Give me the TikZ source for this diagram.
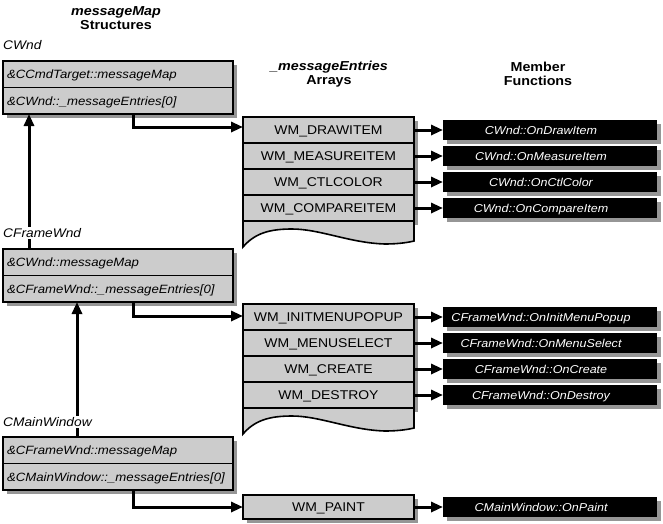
\documentclass[tikz,border=0pt]{standalone}
\usepackage{fontspec}
\setmainfont[FakeStretch=1.1]{Liberation Sans}
\usetikzlibrary{arrows.meta,shadows}
\definecolor{boxgray}{RGB}{204,204,204}
\definecolor{shadowgray}{RGB}{150,150,150}
\def\tearoff[#1](#2){\path[#1,shift={(#2.south west)}] (0,0) -- (0,26) .. controls (12,12) and (27,8) .. (49,8) .. controls (77,8) and (107,22) .. (142,23) .. controls (157,23) and (167,21) .. (171,20) -- (171,0) -- cycle;}
\tikzset{
  dropgray/.style={drop shadow={shadow xshift=4pt,shadow yshift=-4pt,fill=shadowgray,opacity=1}},
  mapbox/.style={draw, line width=1.6pt, fill=boxgray, outer sep=0pt, minimum height=26.5pt, text width=222pt, inner xsep=4pt, inner ysep=0pt, text height=8.6pt, text depth=0pt, align=left, font=\fontsize{12}{13}\selectfont\itshape, dropgray},
  entry/.style={draw, line width=1.6pt, fill=boxgray, outer sep=0pt, minimum width=171pt, minimum height=26pt, inner sep=0pt, text height=9pt, text depth=0pt, font=\fontsize{12.7}{14}\selectfont, dropgray},
  handler/.style={fill=black, text=white, outer sep=0pt, text width=214pt, align=center, minimum height=20pt, inner sep=0pt, text height=8.2pt, text depth=0pt, font=\fontsize{11.4}{12}\selectfont\itshape, execute at end node=\hspace*{18pt}, dropgray},
  tear/.style={draw, line width=1.6pt, fill=boxgray},
  link/.style={line width=3pt, -{Triangle[length=12pt,width=10pt]}},
  classname/.style={anchor=west, fill=white, inner sep=1pt, font=\fontsize{12.5}{13}\selectfont\itshape},
  heading/.style={align=center, font=\fontsize{13}{14.5}\selectfont\bfseries}
}
\begin{document}
\begin{tikzpicture}[x=1pt,y=-1pt]
	%%%%% START %%%%%
	\useasboundingbox (0,0) rectangle (663,523);
	
	\node[heading] (hmap) at (116,18) {\itshape messageMap\\Structures};
	\node[heading] (hent) at (329,74) {\itshape \_messageEntries\\Arrays};
	\node[heading] (hfun) at (538,74) {Member\\Functions};
	
	% messageMap structures
	\node[mapbox] (cwa) at (118,74.25) {\&CCmdTarget::messageMap};
	\node[mapbox] (cwe) at (118,100.75) {\&CWnd::\_messageEntries[0]};
	\node[mapbox] (cfa) at (118,262.25) {\&CWnd::messageMap};
	\node[mapbox] (cfe) at (118,288.75) {\&CFrameWnd::\_messageEntries[0]};
	\node[mapbox] (cma) at (118,450.25) {\&CFrameWnd::messageMap};
	\node[mapbox] (cme) at (118,476.75) {\&CMainWindow::\_messageEntries[0]};
	
	\draw[link] ([xshift=26pt]cfa.north west) -- ([xshift=26pt]cwe.south west);
	\draw[link] ([xshift=74pt]cma.north west) -- ([xshift=74pt]cfe.south west);
	
	\node[classname] (ncw) at (2,45) {CWnd};
	\node[classname] (ncf) at (2,233) {CFrameWnd};
	\node[classname] (ncm) at (2,422) {CMainWindow};
	
	% _messageEntries arrays
	\node[entry] (cw1) at (328.5,130) {WM\_DRAWITEM};
	\node[entry] (cw2) at (328.5,156) {WM\_MEASUREITEM};
	\node[entry] (cw3) at (328.5,182) {WM\_CTLCOLOR};
	\node[entry] (cw4) at (328.5,208) {WM\_COMPAREITEM};
	\tearoff[fill=shadowgray,xshift=4pt,yshift=-4pt](cw4)
	\tearoff[tear](cw4)
	
	\node[entry] (cf1) at (328.5,317) {WM\_INITMENUPOPUP};
	\node[entry] (cf2) at (328.5,343) {WM\_MENUSELECT};
	\node[entry] (cf3) at (328.5,369) {WM\_CREATE};
	\node[entry] (cf4) at (328.5,395) {WM\_DESTROY};
	\tearoff[fill=shadowgray,xshift=4pt,yshift=-4pt](cf4)
	\tearoff[tear](cf4)
	
	\node[entry,minimum height=24pt] (cm1) at (328.5,507) {WM\_PAINT};
	
	% member functions
	\node[handler] (fcw1) at (550,130) {CWnd::OnDrawItem};
	\node[handler] (fcw2) at (550,156) {CWnd::OnMeasureItem};
	\node[handler] (fcw3) at (550,182) {CWnd::OnCtlColor};
	\node[handler] (fcw4) at (550,208) {CWnd::OnCompareItem};
	\node[handler] (fcf1) at (550,317) {CFrameWnd::OnInitMenuPopup};
	\node[handler] (fcf2) at (550,343) {CFrameWnd::OnMenuSelect};
	\node[handler] (fcf3) at (550,369) {CFrameWnd::OnCreate};
	\node[handler] (fcf4) at (550,395) {CFrameWnd::OnDestroy};
	\node[handler] (fcm1) at (550,507) {CMainWindow::OnPaint};
	
	\draw[link] ([xshift=130pt]cwe.south west) |- ([yshift=3pt]cw1.west);
	\draw[link] ([xshift=130pt]cfe.south west) |- ([yshift=1pt]cf1.west);
	\draw[link] ([xshift=130pt]cme.south west) |- (cm1.west);
	
	\draw[link] (cw1.east) -- (fcw1.west);
	\draw[link] (cw2.east) -- (fcw2.west);
	\draw[link] (cw3.east) -- (fcw3.west);
	\draw[link] (cw4.east) -- (fcw4.west);
	\draw[link] (cf1.east) -- (fcf1.west);
	\draw[link] (cf2.east) -- (fcf2.west);
	\draw[link] (cf3.east) -- (fcf3.west);
	\draw[link] (cf4.east) -- (fcf4.west);
	\draw[link] (cm1.east) -- (fcm1.west);
	
	%%%%% END %%%%%
\end{tikzpicture}
\end{document}
